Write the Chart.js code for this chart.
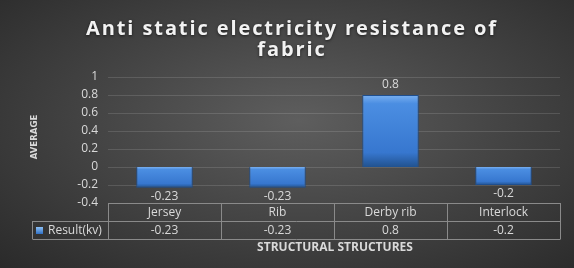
<!DOCTYPE html>
<html>
<head>
<meta charset="utf-8">
<script src="https://cdn.jsdelivr.net/npm/chart.js@4"></script>
<style>
  html, body { margin: 0; padding: 0; background: #fff; }
  #wrap {
    width: 574px; height: 268px;
    background: radial-gradient(ellipse at 52% 45%, #5e5e5e 0%, #464646 45%, #2a2a2a 100%);
  }
</style>
</head>
<body>
<div id="wrap"><canvas id="bar-chart" width="574" height="268"></canvas></div>
<script>
var categories = ["Jersey", "Rib", "Derby rib", "Interlock"];
var results = [-0.23, -0.23, 0.8, -0.2];
var seriesName = "Result(kv)";
var titleLines = ["Anti static electricity resistance of", "fabric"];
var yTitle = "AVERAGE";
var xTitle = "STRUCTURAL STRUCTURES";

var textColor = "#d9d9d9";
var fontFamily = "'Open Sans', sans-serif";

function barGradient(context) {
  var chart = context.chart;
  var y = chart.scales.y;
  if (!y || context.dataIndex === undefined) return "#3c7fd6";
  var v = results[context.dataIndex];
  var top = y.getPixelForValue(Math.max(v, 0));
  var bottom = y.getPixelForValue(Math.min(v, 0));
  if (!isFinite(top) || !isFinite(bottom) || top === bottom) return "#3c7fd6";
  var g = chart.ctx.createLinearGradient(0, top, 0, bottom);
  g.addColorStop(0, "#7ab0f0");
  g.addColorStop(0.12, "#4b8ee2");
  g.addColorStop(0.8, "#3777cf");
  g.addColorStop(1, "#21528f");
  return g;
}

// title, axis titles, data labels and the data table under the plot
var decorations = {
  id: "decorations",
  afterDraw: function (chart) {
    var ctx = chart.ctx;
    var area = chart.chartArea;
    var x = chart.scales.x;
    ctx.save();

    // title
    ctx.fillStyle = "#f2f2f2";
    ctx.font = "bold 20px " + fontFamily;
    ctx.textAlign = "center";
    ctx.textBaseline = "middle";
    ctx.letterSpacing = "1.9px";
    ctx.shadowColor = "rgba(0,0,0,0.6)";
    ctx.shadowBlur = 3;
    ctx.shadowOffsetY = 1;
    ctx.fillText(titleLines[0], 292, 29);
    ctx.fillText(titleLines[1], 292, 50);
    ctx.shadowColor = "transparent";
    ctx.letterSpacing = "0px";

    // y title
    ctx.save();
    ctx.translate(35, 137);
    ctx.rotate(-Math.PI / 2);
    ctx.font = "bold 9.5px 'DejaVu Sans Condensed', sans-serif";
    ctx.fillStyle = textColor;
    ctx.fillText(yTitle, 0, 0);
    ctx.restore();

    // data labels
    var meta = chart.getDatasetMeta(0);
    ctx.font = "12px " + fontFamily;
    ctx.fillStyle = textColor;
    meta.data.forEach(function (bar, i) {
      var v = results[i];
      var ly = v >= 0 ? bar.y - 10 : bar.y + 9;
      ctx.fillText(String(v), bar.x, ly);
    });

    // data table
    var rowH = 18;
    var t0 = area.bottom;
    var t1 = t0 + rowH;
    var t2 = t1 + rowH;
    var legendLeft = 32;
    var edges = [];
    for (var i = 0; i <= categories.length; i++) {
      edges.push(Math.round(x.getPixelForValue(i - 0.5)) + 0.5);
    }
    ctx.strokeStyle = "#8a8a8a";
    ctx.lineWidth = 1;
    ctx.beginPath();
    ctx.moveTo(edges[0], t0 + 0.5); ctx.lineTo(edges[edges.length - 1], t0 + 0.5);
    ctx.moveTo(legendLeft + 0.5, t1 + 0.5); ctx.lineTo(edges[edges.length - 1], t1 + 0.5);
    ctx.moveTo(legendLeft + 0.5, t2 + 0.5); ctx.lineTo(edges[edges.length - 1], t2 + 0.5);
    ctx.moveTo(legendLeft + 0.5, t1); ctx.lineTo(legendLeft + 0.5, t2);
    edges.forEach(function (e) { ctx.moveTo(e, t0); ctx.lineTo(e, t2); });
    ctx.stroke();

    ctx.font = "12px " + fontFamily;
    ctx.fillStyle = textColor;
    categories.forEach(function (c, i) {
      var cx = x.getPixelForValue(i);
      ctx.fillText(c, cx, t0 + rowH / 2 + 1);
      ctx.fillText(String(results[i]), cx, t1 + rowH / 2 + 1);
    });

    // legend key
    var kg = ctx.createLinearGradient(0, t1 + 6, 0, t1 + 13);
    kg.addColorStop(0, "#8cc0f5");
    kg.addColorStop(1, "#2f6fc4");
    ctx.fillStyle = kg;
    ctx.fillRect(36, t1 + 6, 7, 7);
    ctx.fillStyle = textColor;
    ctx.textAlign = "left";
    ctx.font = "12px " + fontFamily;
    ctx.fillText(seriesName, 48, t1 + rowH / 2 + 1);

    // x title
    ctx.textAlign = "center";
    ctx.font = "bold 12px " + fontFamily;
    ctx.fillText(xTitle, 335, t2 + 9);

    ctx.restore();
  }
};

new Chart(document.getElementById("bar-chart"), {
  type: "bar",
  data: {
    labels: categories,
    datasets: [
      {
        label: seriesName,
        data: results,
        backgroundColor: barGradient,
        borderColor: "#1f4f8f",
        borderWidth: 1,
        categoryPercentage: 1,
        barPercentage: 0.5
      }
    ]
  },
  options: {
    responsive: false,
    animation: false,
    layout: { padding: { top: 77, right: 14, bottom: 65, left: 0 } },
    plugins: {
      legend: { display: false },
      title: { display: false },
      tooltip: { enabled: false }
    },
    scales: {
      x: { display: false },
      y: {
        min: -0.4,
        max: 1,
        afterFit: function (scale) { scale.width = 108; },
        border: { display: false },
        grid: {
          drawTicks: false,
          color: function (c) { return c.tick.value === 0 ? "#bdbdbd" : "rgba(255,255,255,0.13)"; },
          lineWidth: function (c) { return c.tick.value === 0 ? 1.5 : 1; }
        },
        ticks: {
          stepSize: 0.2,
          padding: 10,
          color: textColor,
          font: { family: "'Open Sans', sans-serif", size: 12 },
          callback: function (v) { return Math.round(v * 10) / 10; }
        }
      }
    }
  },
  plugins: [decorations]
});
</script>
</body>
</html>
